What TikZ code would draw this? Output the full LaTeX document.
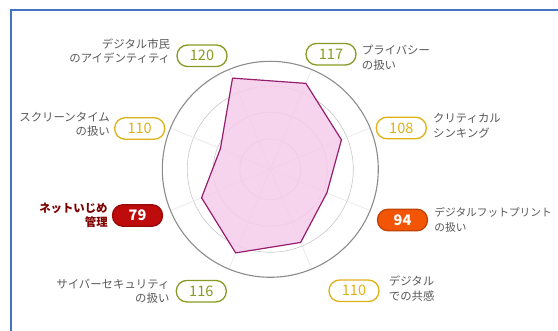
\documentclass[tikz,border=0pt]{standalone}
\usepackage{fontspec}
\setmainfont{Noto Sans CJK JP}
\usetikzlibrary{positioning}
\definecolor{olivegreen}{RGB}{134,155,35}
\definecolor{gold}{RGB}{222,178,22}
\definecolor{alertred}{RGB}{190,12,12}
\definecolor{alertorange}{RGB}{242,85,5}
\definecolor{labelgray}{RGB}{88,88,88}
\definecolor{labelred}{RGB}{125,0,0}
\definecolor{areafill}{RGB}{246,204,234}
\definecolor{arealine}{RGB}{150,30,110}
\definecolor{frameblue}{RGB}{68,114,196}
\tikzset{
    score/.style={%
        draw=#1, text=#1, fill=white,
        rounded corners=10.5pt,
        line width=1.3pt,
        minimum width=50pt,
        minimum height=21.5pt,
        inner sep=0pt,
        font=\fontsize{14.5}{15}\selectfont
        },
    score/.default=olivegreen,
    alert/.style={%
        score, draw=#1!80!black, fill=#1, text=white,
        font=\fontsize{14.5}{15}\selectfont\bfseries
        },
    axislabel/.style={%
        inner sep=0pt, text=labelgray,
        font=\fontsize{11.4}{14.5}\selectfont
        },
    ring/.style={draw=black!22, line width=0.6pt},
    spoke/.style={draw=black!10, line width=0.6pt},
    area/.style={draw=arealine, fill=areafill, fill opacity=0.85, line width=1.2pt, line join=round}
}

\begin{document}
\begin{tikzpicture}[x=1pt,y=1pt]

\useasboundingbox (0,0) rectangle (558,331);

% frame
\draw[frameblue, line width=2pt] (558,321) -- (11,321) -- (11,0);

% radar grid
\coordinate (c) at (270.3,161.7);
\foreach \r in {30.5,57,83}
    \draw[ring] (c) circle (\r);
\foreach \a in {22.5,67.5,...,337.5}
    \draw[spoke] (c) -- ++(\a:108);
\draw[black!45, line width=1.1pt] (c) circle (108);

% scores
\draw[area] ([shift={(22.5:77)}]c) -- ([shift={(67.5:93)}]c)
    -- ([shift={(112.5:98.7)}]c) -- ([shift={(157.5:54)}]c)
    -- ([shift={(202.5:74.4)}]c) -- ([shift={(247.5:90.5)}]c)
    -- ([shift={(292.5:79.2)}]c) -- ([shift={(337.5:61.3)}]c) -- cycle;

% left side
\node[score] (S120) at (202,275.2) {120};
\node[axislabel, align=right, left=6pt of S120, yshift=4.6pt] (L120) {デジタル市民\\のアイデンティティ};

\node[score=gold] (S110a) at (139.7,202.5) {110};
\node[axislabel, align=right, left=4pt of S110a, yshift=4pt] (L110a) {スクリーンタイム\\の扱い};

\node[alert=alertred] (S79) at (137.5,115.5) {79};
\node[axislabel, align=right, left=4pt of S79, text=labelred, font=\fontsize{11.4}{14.5}\selectfont\bfseries] (L79) {ネットいじめ\\管理};

\node[score] (S116) at (201.3,39.8) {116};
\node[axislabel, align=right, left=6pt of S116] (L116) {サイバーセキュリティ\\の扱い};

% right side
\node[score] (S117) at (331,276.8) {117};
\node[axislabel, align=left, right=5pt of S117, yshift=-3.5pt] (L117) {プライバシー\\の扱い};

\node[score=gold] (S108) at (401.3,203) {108};
\node[axislabel, align=left, right=6pt of S108, yshift=2pt] (L108) {クリティカル\\シンキング};

\node[alert=alertorange] (S94) at (402.5,111) {94};
\node[axislabel, align=left, right=6pt of S94, font=\fontsize{10.7}{14.5}\selectfont] (L94) {デジタルフットプリント\\の扱い};

\node[score=gold] (S110b) at (354,40.2) {110};
\node[axislabel, align=left, right=9pt of S110b, yshift=2pt] (L110b) {デジタル\\での共感};

\end{tikzpicture}
\end{document}
